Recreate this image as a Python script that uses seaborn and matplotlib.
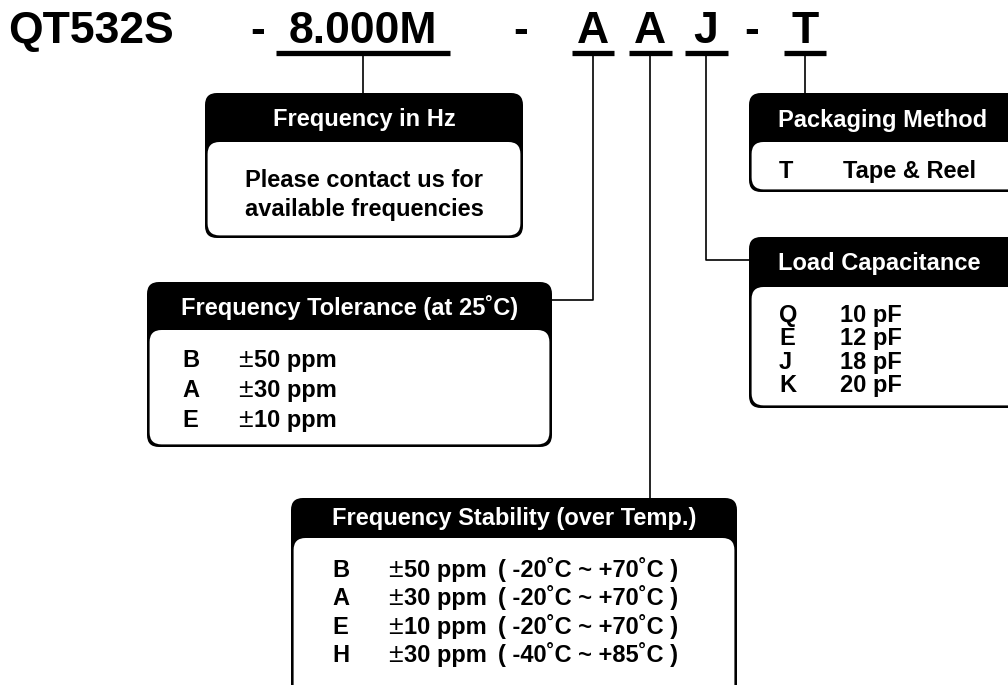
import matplotlib
matplotlib.use("Agg")
import matplotlib.pyplot as plt
from matplotlib.patches import FancyBboxPatch
import seaborn as sns

sns.set_theme(style="white")
plt.rcParams["font.family"] = ["Liberation Sans", "DejaVu Sans"]

# part number segments and where each one sits (centre x)
part_codes = ["QT532S", "-", "8.000M", "-", "A", "A", "J", "-", "T"]
part_x = [93, 258, 363, 521, 593, 650, 706, 752, 805]

# box contents
hz_title = "Frequency in Hz"
hz_lines = ["Please contact us for", "available frequencies"]

tol_title = "Frequency Tolerance (at 25˚C)"
tol_codes = ["B", "A", "E"]
tol_values = ["50 ppm", "30 ppm", "10 ppm"]

stab_title = "Frequency Stability (over Temp.)"
stab_codes = ["B", "A", "E", "H"]
stab_values = ["50 ppm", "30 ppm", "10 ppm", "30 ppm"]
stab_ranges = ["( -20˚C ~ +70˚C )", "( -20˚C ~ +70˚C )",
               "( -20˚C ~ +70˚C )", "( -40˚C ~ +85˚C )"]

pack_title = "Packaging Method"
pack_codes = ["T"]
pack_values = ["Tape & Reel"]

load_title = "Load Capacitance"
load_codes = ["Q", "E", "J", "K"]
load_values = ["10 pF", "12 pF", "18 pF", "20 pF"]

FS = 17

fig = plt.figure(figsize=(10.08, 6.85), dpi=100)
ax = fig.add_axes([0, 0, 1, 1])
ax.set_xlim(0, 1008)
ax.set_ylim(685, 0)
ax.axis("off")


def box(x0, x1, y0, y1, yh, r=12, m=2.6):
    outer = FancyBboxPatch((x0, y0), x1 - x0, y1 - y0,
                           boxstyle="round,pad=0,rounding_size=%d" % r,
                           fc="black", ec="none", zorder=2)
    inner = FancyBboxPatch((x0 + m, yh), x1 - x0 - 2 * m, y1 - yh - m,
                           boxstyle="round,pad=0,rounding_size=%d" % r,
                           fc="white", ec="none", zorder=3)
    ax.add_patch(outer)
    ax.add_patch(inner)


def txt(x, y, s, ha="left", color="black", size=FS, weight="bold"):
    ax.text(x, y, s, ha=ha, va="baseline", fontsize=size,
            fontweight=weight, color=color, zorder=5)


def pm(x, y):
    # the plus-minus sign is set thinner than the rest of the row
    txt(x, y, "±", size=19, weight="normal")


# part number header
for code, x in zip(part_codes, part_x):
    if code == "QT532S":
        txt(8, 43, code, size=32)
    else:
        txt(x, 43, code, ha="center", size=32)

# underlines
for xa, xb in [(276, 450), (572, 614), (629, 672), (685, 728), (784, 826)]:
    ax.plot([xa, xb], [53, 53], color="black", lw=3.8, solid_capstyle="butt", zorder=4)

# leader lines
lw = 1.2
ax.plot([363, 363], [53, 93], color="black", lw=lw, zorder=1)
ax.plot([593, 593, 552], [53, 300, 300], color="black", lw=lw, zorder=1)
ax.plot([650, 650], [53, 498], color="black", lw=lw, zorder=1)
ax.plot([706, 706, 749], [53, 260, 260], color="black", lw=lw, zorder=1)
ax.plot([805, 805], [53, 93], color="black", lw=lw, zorder=1)

# Frequency in Hz
box(205, 523, 93, 238, 142)
txt(364, 126, hz_title, ha="center", color="white")
for line, yb in zip(hz_lines, [187, 216]):
    txt(364, yb, line, ha="center")

# Frequency Tolerance
box(147, 552, 282, 447, 330)
txt(350, 315, tol_title, ha="center", color="white")
for i, (c, v) in enumerate(zip(tol_codes, tol_values)):
    yb = 367 + 30 * i
    txt(182, yb, c)
    pm(238, yb)
    txt(254, yb, v)

# Packaging Method
box(749, 1040, 93, 192, 142)
txt(778, 127, pack_title, color="white")
for c, v in zip(pack_codes, pack_values):
    txt(779, 178, c)
    txt(843, 178, v)

# Load Capacitance
box(749, 1040, 237, 408, 287)
txt(778, 270, load_title, color="white")
for i, (c, v) in enumerate(zip(load_codes, load_values)):
    yb = 322 + 23.3 * i
    txt(779, yb, c)
    txt(840, yb, v)

# Frequency Stability
box(291, 737, 498, 720, 538)
txt(514, 525, stab_title, ha="center", color="white")
for i, (c, v, rng) in enumerate(zip(stab_codes, stab_values, stab_ranges)):
    yb = 577 + 28.4 * i
    txt(332, yb, c)
    pm(388, yb)
    txt(404, yb, v)
    txt(498, yb, rng)

fig.savefig("out.png", dpi=100, facecolor="white")
